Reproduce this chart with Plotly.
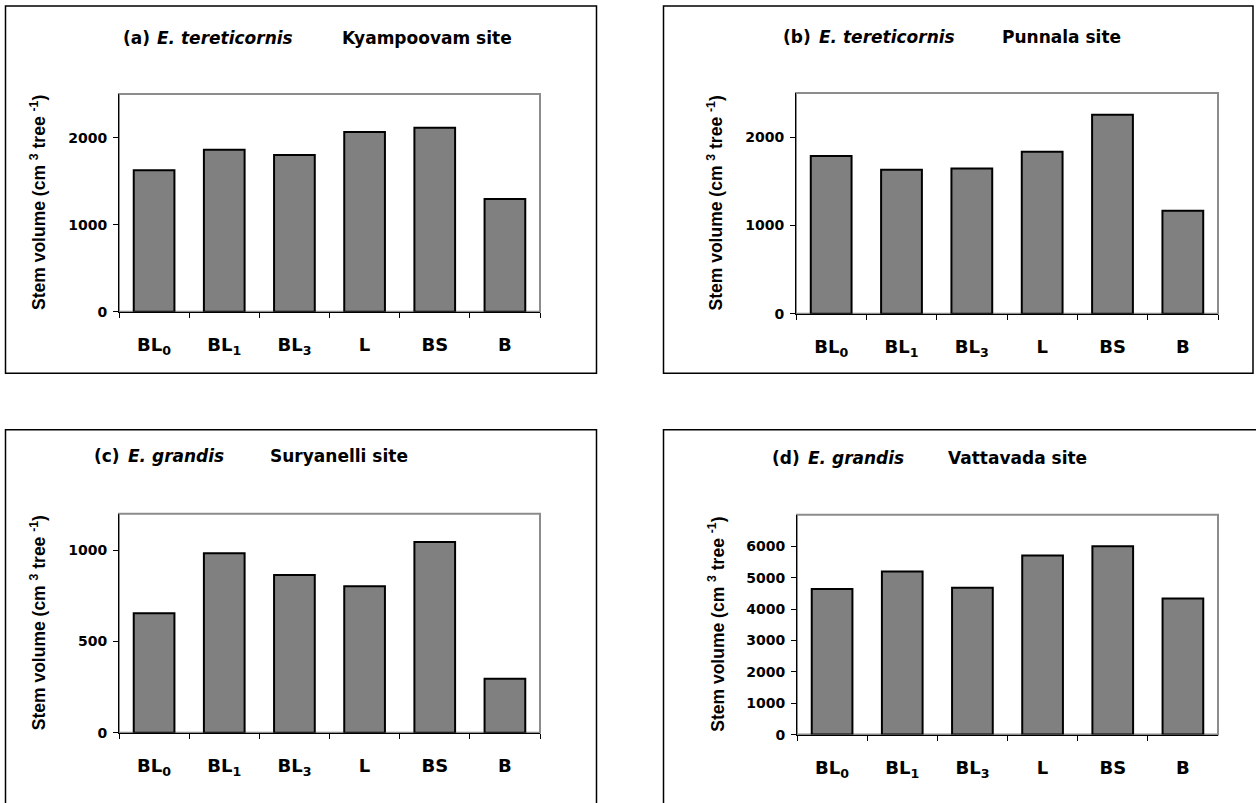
import plotly.graph_objects as go

# Treatments (x categories) shared by all four panels
treatments = ["BL<sub>0</sub>", "BL<sub>1</sub>", "BL<sub>3</sub>", "L", "BS", "B"]

# Stem volume (cm3 per tree) for each site
kyampoovam = [1624, 1860, 1799, 2065, 2114, 1294]
punnala = [1786, 1632, 1647, 1835, 2255, 1167]
suryanelli = [655, 984, 864, 803, 1045, 295]
vattavada = [4635, 5198, 4677, 5708, 6000, 4333]

# y-axis tick values per panel
ticks_a = [0, 1000, 2000]
ticks_b = [0, 1000, 2000]
ticks_c = [0, 500, 1000]
ticks_d = [0, 1000, 2000, 3000, 4000, 5000, 6000]

W, H = 1256, 803
FONT = "DejaVu Sans"
AXFONT = "Liberation Sans"


def px(x):
    return x / W


def py(y):
    return 1 - y / H


panels = [
    dict(vals=kyampoovam, ticks=ticks_a, ymax=2500, xd=(119, 540), yd=(95, 315),
         lab="(a)", sp="E. tereticornis", site="Kyampoovam site",
         tx=121, ex=155, sx=340, ty=38, box=(5.5, 6, 596.5, 377)),
    dict(vals=punnala, ticks=ticks_b, ymax=2500, xd=(796, 1218), yd=(94, 317),
         lab="(b)", sp="E. tereticornis", site="Punnala site",
         tx=781, ex=817, sx=1000, ty=37, box=(663.5, 6, 1253, 377)),
    dict(vals=suryanelli, ticks=ticks_c, ymax=1200, xd=(119, 540), yd=(519, 740),
         lab="(c)", sp="E. grandis", site="Suryanelli site",
         tx=92, ex=126, sx=268, ty=461, box=(5.5, 434, 596.5, 830)),
    dict(vals=vattavada, ticks=ticks_d, ymax=7000, xd=(797, 1218), yd=(520, 742),
         lab="(d)", sp="E. grandis", site="Vattavada site",
         tx=770, ex=806, sx=946, ty=463, box=(663.5, 434, 1280, 830)),
]

# bold category labels for the x axes
x_labels = [f"<b>{t}</b>" for t in treatments]

fig = go.Figure()
layout = dict(
    width=W, height=H,
    margin=dict(l=0, r=0, t=0, b=0),
    paper_bgcolor="white", plot_bgcolor="white",
    showlegend=False,
    font=dict(family=FONT, color="black"),
    shapes=[], annotations=[],
    bargap=0.42,
)


def label(x, y, text, size=17, family=FONT, style="normal"):
    return dict(
        xref="paper", yref="paper", x=px(x), y=py(y),
        xanchor="left", yanchor="middle", showarrow=False, text=text,
        font=dict(family=family, size=size, color="black", weight="bold", style=style),
    )


for i, p in enumerate(panels, start=1):
    xa = "x" if i == 1 else f"x{i}"
    ya = "y" if i == 1 else f"y{i}"
    fig.add_trace(go.Bar(
        x=x_labels, y=p["vals"], xaxis=xa, yaxis=ya,
        marker=dict(color="#808080", line=dict(color="black", width=2)),
        width=0.58,
    ))
    sfx = "" if i == 1 else str(i)
    layout["xaxis" + sfx] = dict(
        domain=[px(p["xd"][0]), px(p["xd"][1])], anchor=ya,
        type="category", tickson="boundaries", ticks="outside", ticklen=5,
        tickcolor="black", showline=True, linecolor="black", linewidth=1,
        showgrid=False, zeroline=False, fixedrange=True,
        tickfont=dict(family=FONT, size=18, color="black"),
        ticklabelstandoff=17,
    )
    layout["yaxis" + sfx] = dict(
        domain=[py(p["yd"][1]), py(p["yd"][0])], anchor=xa,
        range=[0, p["ymax"]], tickmode="array", tickvals=p["ticks"],
        ticktext=[f"<b>{v}</b>" for v in p["ticks"]],
        ticks="outside", ticklen=5,
        tickcolor="black", showline=True, linecolor="black", linewidth=1,
        showgrid=False, zeroline=False, fixedrange=True,
        tickfont=dict(family=FONT, size=14, color="black"),
        ticklabelstandoff=3,
    )
    # grey frame on the top and right of the plotting area
    layout["shapes"].append(dict(
        type="rect", xref=f"{xa} domain", yref=f"{ya} domain",
        x0=0, x1=1, y0=0, y1=1, line=dict(color="#8c8c8c", width=2), layer="below",
    ))
    # black border around each panel
    bx0, by0, bx1, by1 = p["box"]
    layout["shapes"].append(dict(
        type="rect", xref="paper", yref="paper",
        x0=px(bx0), x1=px(bx1), y0=py(by1), y1=py(by0),
        line=dict(color="black", width=1.5),
    ))
    # panel heading: letter, species (italic), site
    layout["annotations"].append(label(p["tx"], p["ty"], p["lab"]))
    layout["annotations"].append(label(p["ex"], p["ty"], p["sp"], style="italic"))
    layout["annotations"].append(label(p["sx"], p["ty"], p["site"]))
    # y-axis title
    layout["annotations"].append(dict(
        xref="paper", yref="paper", x=px(p["xd"][0] - 81),
        y=py((p["yd"][0] + p["yd"][1]) / 2),
        xanchor="center", yanchor="middle", showarrow=False, textangle=-90,
        text="Stem volume (cm <sup>3</sup> tree <sup>-1</sup>)",
        font=dict(family=AXFONT, size=17.5, color="black", weight="bold"),
    ))

fig.update_layout(**layout)
fig.write_html("out.html")
